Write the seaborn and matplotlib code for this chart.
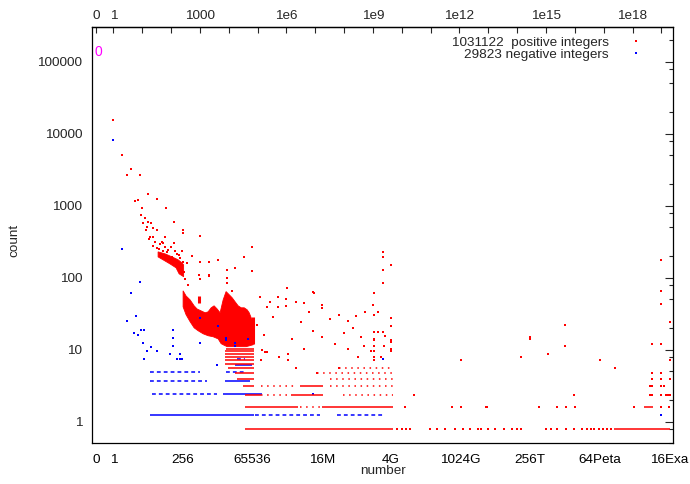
import numpy as np
import pandas as pd
import matplotlib
matplotlib.use("Agg")
import matplotlib.pyplot as plt
import seaborn as sns
from matplotlib.ticker import FixedLocator, NullFormatter

# ---- data (x in bits = log2(number), 0 drawn at -2) ----
RED_UNIT = 0.793    # one red row step in count
BLUE_UNIT = 1.222   # one blue row step in count

pos_bits = [0.0, 1.0, 1.61, 2.0, 2.45, 2.81, 3.04, 3.34, 3.19, 3.62, 3.46, 3.97, 4.04, 4.35,
            3.85, 3.74, 4.61, 5.0, 5.04, 6.04, 7.04, 4.23, 4.15, 4.54, 4.81, 5.58, 6.0, 5.7,
            4.61, 5.0, 5.39, 7.0, 6.62, 5.96, 7.89, 8.0, 8.0, 10.03,
            5.77, 6.34, 7.31, 7.69, 6.73, 8.07, 8.54, 5.3, 6.2, 7.1, 7.6, 8.2, 8.3, 8.6,
            9.04, 11.0, 9.92, 10.0, 11.04, 10.03, 12.04, 15.0, 15.96, 16.0, 13.96, 13.08,
            13.08, 13.08, 13.65, 11.07,
            16.9, 18.0, 17.7, 19.0, 19.0, 20.0, 19.9, 19.9, 21.07, 22.0, 23.07, 24.04, 24.04,
            25.0, 25.95, 23.0, 24.04, 22.0, 17.7, 19.03, 20.07, 20.07, 21.07, 23.46, 17.04,
            17.1, 17.5, 22.95, 27.04, 28.0, 29.0, 27.04, 28.92, 28.14, 26.03,
            16.5, 17.3, 18.4, 20.6, 21.6, 22.5, 25.5, 26.6, 27.6, 28.5,
            31.03, 31.03, 32.0, 31.03, 31.03, 30.0, 29.9, 30.5, 30.07, 32.0, 32.0, 30.0, 30.45,
            31.03, 31.34, 30.07, 30.07, 32.0, 32.0, 31.22, 30.07, 29.69, 30.07, 32.0, 32.0,
            30.07, 30.84, 30.07,
            40.0, 63.05, 63.05, 63.05, 64.1, 52.07, 47.98, 47.98, 52.07, 47.0, 50.06, 56.0,
            57.8, 62.0, 63.05, 64.1]
pos_count = [15400, 5030, 2670, 3230, 1150, 1200, 2690, 920, 735, 665, 580, 600, 1440, 580,
             510, 460, 495, 460, 1230, 930, 590, 365, 340, 370, 315, 315, 365, 300,
             275, 255, 295, 300, 270, 270, 237, 460, 420, 375,
             232, 243, 214, 186, 195, 167, 162, 250, 230, 235, 205, 120, 95, 80,
             200, 166, 108, 97, 108, 163, 177, 191, 267, 125, 135, 128,
             98, 84, 66, 106,
             53.5, 45.6, 39, 53, 39, 71, 50.5, 39.8, 46.6, 44.3, 62, 42, 37.8,
             26.6, 30.6, 18.3, 14.9, 10.3, 9.4, 7.9, 8.6, 7.2, 5.55, 4.7, 7.2,
             10, 9.4, 63, 25.2, 29.2, 32.8, 10.3, 11.1, 7.9, 5.6,
             22, 16, 28, 14, 24, 33, 12, 17, 20, 15,
             226, 192, 152, 128, 85.5, 62, 42, 33, 30.6, 27.7, 21.2, 17.3, 17.3,
             17.6, 15.7, 14.1, 13.4, 13.4, 12.7, 11.1, 11.1, 9.43, 9.43, 10.2, 9.43,
             7.9, 7.9, 7.1,
             7.1, 177, 66, 43.3, 24.4, 22.1, 14.8, 14.0, 11.1, 7.9, 8.7, 7.1,
             5.55, 12.0, 12.0, 7.1]

# isolated points sitting on the red rows (row index, bits)
pos_row_k = [2, 2, 2, 2, 2, 2, 2, 2, 2, 2, 2, 2,
             3, 3, 3, 3, 3, 3, 3, 3,
             4, 4, 4, 4, 5, 5, 5, 6, 6]
pos_row_bits = [43.0, 49.0, 51.05, 52.1, 53.2, 60.0, 63.05, 64.0, 33.6, 39.0, 40.0, 42.9,
                34.6, 53.06, 61.8, 62.0, 63.05, 63.6, 63.85, 64.1,
                61.8, 62.0, 63.05, 63.4, 62.0, 63.05, 64.1, 62.0, 63.05]
pos_row1_bits = [32.7, 33.2, 33.7, 34.2, 36.5, 37.3, 38.2, 39.4, 40.3, 41.1, 42.0, 42.3, 43.1,
                 44.0, 45.0, 45.95, 46.5, 47.0, 49.8, 50.4, 51.1, 52.1, 53.05, 54.0, 54.5,
                 55.0, 55.4, 55.9, 56.4, 56.9, 57.3]

neg_bits = [0.0, 1.04, 3.04, 2.04, 2.62, 1.61, 3.19, 3.58, 2.35, 2.81, 3.39, 3.51, 7.69,
            7.69, 10.0, 10.0, 12.1, 13.0, 13.0, 14.04, 14.04, 15.57, 6.92, 6.92, 6.92, 6.54,
            7.3, 7.9, 12.0, 3.9, 4.3, 5.0, 31.0, 23.0, 63.05]
neg_count = [8150, 247, 86, 62, 29.7, 24.9, 18.5, 18.5, 17.1, 16.1, 12.5, 7.4, 8.8,
             7.4, 12.3, 27.5, 21, 14.5, 13.4, 12.3, 11.1, 14.0, 18.5, 14.5, 11.1, 8.7,
             7.4, 7.4, 6.2, 9.5, 11, 9.5, 7.4, 2.44, 1.22]

# dense clouds: outline, top edge left to right then bottom edge right to left
cloud1_bits = [5.16, 5.96, 6.77, 7.46, 7.92, 8.1, 8.1, 7.58, 7.23, 6.54, 5.73, 5.16]
cloud1_count = [228, 214, 194, 177, 160, 150, 103, 113, 137, 155, 177, 194]
cloud2_bits = [8.04, 8.38, 8.85, 9.31, 9.65, 10.12, 10.58, 10.92, 11.27, 11.61, 11.96, 12.3,
               12.65, 12.99, 13.34, 13.69, 14.04, 14.38, 14.73, 15.08, 15.42, 15.65, 15.88, 16.11,
               16.11, 15.31, 14.15, 13.11, 12.77, 12.42, 12.08, 11.5, 10.92, 10.35, 9.77, 9.31,
               8.85, 8.38, 8.04]
cloud2_count = [65.6, 55.7, 49, 40.6, 36.7, 34.5, 32.5, 33.5, 38.1, 40.6, 36.7, 32.5,
                49, 64, 58, 52.5, 46, 40.6, 38.1, 38.1, 35.7, 32.5, 27.7, 24.4,
                11.7, 11.0, 11.0, 11.0, 11.5, 12.1, 14.1, 15.1, 15.6, 16.6, 18.3, 20.1,
                24.4, 30.6, 39.3]
streak_bits = [9.9, 16.05]
streak_lo = [45, 12]
streak_hi = [56, 28]

# red rows: (row index, from bits, to bits)
red_solid_k = [1, 1, 2, 2, 2, 3, 3, 4, 4, 5, 6, 7, 8, 9, 10, 11, 12, 13]
red_solid_a = [15.2, 57.7, 15.2, 24.0, 61.1, 15.2, 20.5, 14.96, 21.5, 14.3, 14.0, 13.2, 12.9, 12.9, 12.9, 12.9, 12.9, 13.0]
red_solid_b = [32.2, 64.1, 21.3, 32.2, 62.2, 17.0, 24.2, 16.2, 24.2, 16.2, 16.2, 16.2, 16.2, 16.2, 16.2, 16.2, 16.2, 16.2]
red_dot_k = [2, 3, 3, 4, 4, 5, 6, 7]
red_dot_a = [21.5, 17.0, 26.5, 17.0, 25.0, 25.0, 23.5, 26.0]
red_dot_b = [23.8, 20.5, 32.2, 21.0, 32.2, 32.2, 32.2, 32.2]

# blue rows
blue_solid_k = [1, 2, 3, 5]
blue_solid_a = [4.2, 12.6, 12.9, 14.0]
blue_solid_b = [16.15, 17.1, 15.8, 16.0]
blue_dot_k = [1, 1, 2, 3, 4, 4, 6]
blue_dot_a = [16.3, 25.8, 4.5, 4.2, 4.2, 13.0, 14.3]
blue_dot_b = [23.8, 31.1, 12.0, 10.8, 10.0, 15.2, 15.2]

bottom_tick_bits = [-2, 0, 8, 16, 24, 32, 40, 48, 56, 64]
bottom_tick_labels = ["0", "1", "256", "65536", "16M", "4G", "1024G", "256T", "64Peta", "16Exa"]
top_tick_labels = ["0", "1", "1000", "1e6", "1e9", "1e12", "1e15", "1e18"]
y_tick_values = [1, 10, 100, 1000, 10000, 100000]
y_tick_labels = ["1", "10", "100", "1000", "10000", "100000"]
n_positive = 1031122
n_negative = 29823

# ---- styling ----
sns.set_theme(style="white")
plt.rcParams["font.family"] = ["Liberation Sans", "DejaVu Sans"]
plt.rcParams["font.size"] = 9.7
RED, BLUE, MAGENTA = "#ff0000", "#0000ff", "#ff00ff"

fig = plt.figure(figsize=(6.9, 4.84), dpi=100)
ax = fig.add_axes([92 / 690, (484 - 443.3) / 484, 581 / 690, 416 / 484])
ax.set_yscale("log")

# dense clouds
ax.fill(cloud1_bits, cloud1_count, color=RED, lw=0.6)
ax.fill(cloud2_bits, cloud2_count, color=RED, lw=0.6)
ax.vlines(streak_bits, streak_lo, streak_hi, color=RED, lw=2.2)

# rows
red_dots = (0, (1.0, 3.0))
blue_dash = (0, (2.5, 2.0))
ax.hlines(np.array(blue_solid_k) * BLUE_UNIT, blue_solid_a, blue_solid_b, color=BLUE, lw=1.1)
ax.hlines(np.array(blue_dot_k) * BLUE_UNIT, blue_dot_a, blue_dot_b, color=BLUE, lw=1.1,
          linestyles=blue_dash)
ax.hlines(np.array(red_solid_k) * RED_UNIT, red_solid_a, red_solid_b, color=RED, lw=1.1)
ax.hlines(np.array(red_dot_k) * RED_UNIT, red_dot_a, red_dot_b, color=RED, lw=1.1,
          linestyles=red_dots)

pos = pd.DataFrame({
    "bits": pos_bits + pos_row_bits + pos_row1_bits,
    "count": pos_count + [k * RED_UNIT for k in pos_row_k] + [RED_UNIT] * len(pos_row1_bits),
})
neg = pd.DataFrame({"bits": neg_bits, "count": neg_count})
sns.scatterplot(data=pos, x="bits", y="count", color=RED, marker="s", s=2.5, linewidth=0, ax=ax)
sns.scatterplot(data=neg, x="bits", y="count", color=BLUE, marker="s", s=2.5, linewidth=0, ax=ax)

ax.text(-2.2, 1.35e5, "0", color=MAGENTA, fontsize=10, va="center", ha="left")

# key
ax.text(0.889, 0.962, f"{n_positive}  positive integers", transform=ax.transAxes, ha="right", va="center")
ax.text(0.889, 0.933, f"{n_negative} negative integers", transform=ax.transAxes, ha="right", va="center")
ax.scatter([0.937], [0.967], transform=ax.transAxes, color=RED, marker="s", s=2.5, lw=0)
ax.scatter([0.937], [0.938], transform=ax.transAxes, color=BLUE, marker="s", s=2.5, lw=0)

ax.set_xlim(-2.45, 64.45)
ax.set_ylim(0.5, 3e5)
ax.set_xlabel("")
ax.set_ylabel("")

ax.set_xticks(bottom_tick_bits, bottom_tick_labels)
ax.set_xticks([b for b in range(1, 64) if b % 8], minor=True)
ax.yaxis.set_major_locator(FixedLocator(y_tick_values))
ax.set_yticklabels(y_tick_labels)
ax.yaxis.set_minor_locator(FixedLocator([m * 10.0 ** e for e in range(-1, 6) for m in (2, 5, 8)
                                         if 0.5 <= m * 10.0 ** e <= 3e5]))
ax.yaxis.set_minor_formatter(NullFormatter())
ax.tick_params(axis="x", which="both", direction="in", length=4, width=0.8, top=False,
               pad=7.5, colors="black", labelsize=9.7)
ax.tick_params(axis="y", which="major", direction="in", length=6, width=0.8, right=True,
               pad=7, labelsize=9.7)
ax.tick_params(axis="y", which="minor", direction="in", length=3, width=0.8, right=True)

top = ax.secondary_xaxis("top")
top_pos = [-2] + [k * np.log2(10) for k in range(0, 20)]
top.set_xticks(top_pos)
top.set_xticklabels(["0"] + [top_tick_labels[1 + k // 3] if k % 3 == 0 else "" for k in range(0, 20)])
top.tick_params(direction="in", length=4, width=0.8, pad=4, labelsize=9.7)

for sp in list(ax.spines.values()) + list(top.spines.values()):
    sp.set_color("black")
    sp.set_linewidth(0.9)

fig.text(14 / 690, 1 - 240 / 484, "count", rotation=90, ha="center", va="center", fontsize=9.7)
fig.text(383 / 690, 1 - 471 / 484, "number", ha="center", va="center", fontsize=9.7)

fig.savefig("out.png", dpi=100)
